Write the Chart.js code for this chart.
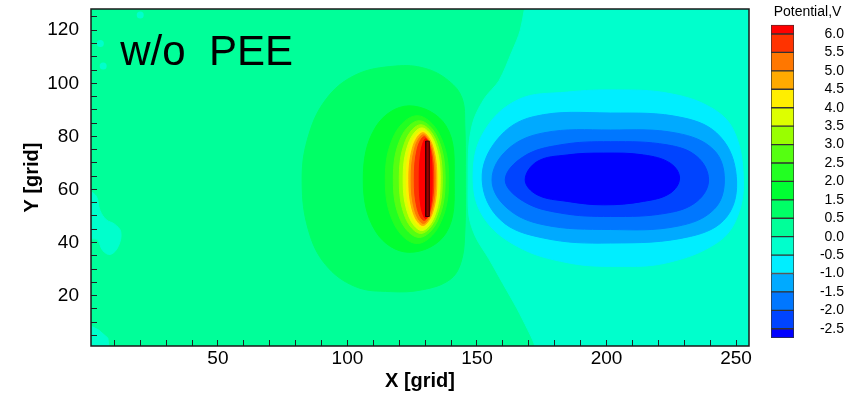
<!DOCTYPE html>
<html>
<head>
<meta charset="utf-8">
<title>Potential, w/o PEE</title>
<script src="https://cdn.jsdelivr.net/npm/chart.js@4.4.1/dist/chart.umd.min.js"></script>
<style>
  html, body { margin: 0; padding: 0; background: #fff; }
  #wrap { position: relative; width: 857px; height: 393px; }
  #field { position: absolute; left: 0; top: 0; }
  #bar { position: absolute; left: 760px; top: 0; }
</style>
</head>
<body>
<div id="wrap">
  <canvas id="field" width="857" height="393"></canvas>
  <canvas id="bar" width="84" height="393"></canvas>
</div>
<script>
// levels printed on the colour bar (there is no 1.0 label in the original)
const levels = [-2.5, -2.0, -1.5, -1.0, -0.5, 0.0, 0.5, 1.5, 2.0, 2.5, 3.0, 3.5, 4.0, 4.5, 5.0, 5.5, 6.0];
// one colour per band, from below -2.5 up to above 6.0
const bandColors = ['#0000ff', '#0044ff', '#0077ff', '#00aaff', '#00eeff', '#00ffcc', '#00ff99', '#00ff66',
                    '#00ff33', '#22ff22', '#55ff11', '#99ff00', '#ddff00', '#ffee00', '#ffaa00', '#ff7700',
                    '#ff3300', '#ff0000'];

const panelText = 'w/o  PEE';

// isolines as [x, y] in grid units
// zero line: everything right of it is negative
const isoZero = [[169.5,135],[166.7,120],[163.5,112],[158.5,101],[153,94.5],[148.8,86.5],[146.9,77],[146.6,63.7],
                 [146.9,50],[149.5,42],[154.5,34],[160,24.5],[165.5,15],[169.5,7.3],[172,2],[174,-5],[400,-5],[400,135]];

// positive side, around the electrode
const isoP05 = [[118.5,106.5],[130,105.6],[139,101],[144.2,94.5],[145.3,84],[145.5,63.7],[145.3,44],[143.8,32.5],
                [139.5,26],[129,22.2],[116.5,21.5],[103,23.4],[91.5,31.7],[84.9,44.8],[82.5,62.5],[84.5,78.7],
                [91.5,93.7],[103,103.1]];
const isoP15 = [[106.1,63.7],[111.0,83.7],[123.7,91.5],[138.0,84.0],[141.2,63.7],[138.0,43.5],[123.7,36.3],[111.0,44.0]];
const isoP20 = [[114.6,63.7],[118.2,80.8],[126.9,87.8],[135.5,80.8],[139.1,63.7],[135.5,46.6],[126.9,39.6],[118.2,46.6]];
const isoP25 = [[117.7,63.7],[120.6,79.5],[127.7,85.9],[134.8,79.5],[137.7,63.7],[134.8,48.2],[127.7,41.9],[120.6,48.2]];
const isoP30 = [[120.0,63.7],[122.4,78.4],[128.3,84.4],[134.2,78.4],[136.6,63.7],[134.2,49.3],[128.3,43.4],[122.4,49.3]];
const isoP35 = [[121.5,63.7],[123.6,77.5],[128.7,83.2],[133.7,77.5],[135.8,63.7],[133.7,50.1],[128.7,44.5],[123.6,50.1]];
const isoP40 = [[122.7,63.7],[124.5,76.8],[128.9,82.1],[133.2,76.8],[135.0,63.7],[133.2,50.9],[128.9,45.7],[124.5,50.9]];
const isoP45 = [[123.7,63.7],[125.3,76.3],[129.1,81.4],[132.9,76.3],[134.5,63.7],[132.9,51.4],[129.1,46.4],[125.3,51.4]];
const isoP50 = [[124.6,63.7],[126.0,75.7],[129.3,80.6],[132.6,75.7],[133.9,63.7],[132.6,52.0],[129.3,47.2],[126.0,52.0]];
const isoP55 = [[125.8,63.7],[126.9,75.2],[129.6,79.9],[132.2,75.2],[133.3,63.7],[132.2,52.8],[129.6,48.3],[126.9,52.8]];
const isoP60 = [[127.7,63.7],[128.4,74.6],[130.2,79.1],[132.0,74.6],[132.7,63.7],[132.0,53.3],[130.2,49.0],[128.4,53.3]];

// the electrode itself
const rod = [[130.2,49.8],[131.6,49.8],[131.6,78.2],[130.2,78.2],[130.2,49.8]];

// negative side
const isoM05 = [[148.5,64.7],[152.4,81.3],[165.6,93.7],[184.9,96.7],[204,97.5],[223.5,96.3],[240,91],[249,82.4],
                [252.8,64.7],[250.5,49.7],[242.8,40],[223.5,32.4],[204,31],[184.9,32.4],[165.6,38.5],[152.4,49.7]];
const isoM10 = [[152,63.6],[157.7,78.7],[171.7,87.4],[201.5,88.8],[229.6,87],[243.9,79.9],[250.1,64.9],[246.5,49.8],
                [232.4,42.3],[201.5,39.8],[175.6,41.7],[159,48.6]];
const isoM15 = [[155.8,63.6],[161.6,74.9],[175.6,81.3],[201.5,82.4],[227.2,81.2],[241.4,74.9],[245.5,63.6],[241.4,52.4],
                [227.2,46.1],[201.5,44.9],[175.6,46.7],[161.6,53.0]];
const isoM20 = [[160.9,63.6],[168.0,72.4],[182.2,76.8],[201.5,78.0],[223.4,76.8],[234.9,72.4],[239.4,63.6],[234.9,55.5],
                [223.4,51.1],[201.5,49.8],[182.2,51.1],[168.0,55.5]];
const isoM25 = [[168.6,63.6],[173.2,70.5],[184.8,73.0],[198.9,73.7],[214.3,73.0],[224.6,69.9],[228.2,64.3],[224.6,58.6],
                [214.3,55.5],[198.9,54.2],[184.8,55.5],[173.2,58.0]];

// small noisy patches along the left edge
const speckLeft = [[0,59],[3,57.5],[4.5,52],[7,48.5],[10,47],[12.5,44],[11.5,38.5],[8.5,35.5],[5.5,37],[3.5,41],[0,42]];
const speckCorner = [[0,9],[4,7],[7.5,4],[8,0],[0,0]];
const speckDots = [[4.6,115],[5.7,106.5],[20,125.7]];

const positiveIso = [[0.5, isoP05], [1.5, isoP15], [2.0, isoP20], [2.5, isoP25], [3.0, isoP30], [3.5, isoP35],
                     [4.0, isoP40], [4.5, isoP45], [5.0, isoP50], [5.5, isoP55], [6.0, isoP60]];
const negativeIso = [[-0.5, isoM05], [-1.0, isoM10], [-1.5, isoM15], [-2.0, isoM20], [-2.5, isoM25]];

Chart.defaults.font.family = '"Liberation Sans", Arial, Helvetica, sans-serif';
Chart.defaults.color = '#000';

function toXY(points) {
    return points.map(p => ({ x: p[0], y: p[1] }));
}

function area(points, color, closed) {
    return {
        data: toXY(points),
        backgroundColor: color,
        borderColor: color,
        borderWidth: 1,
        fill: 'shape',
        pointRadius: 0,
        tension: closed ? 0.38 : 0.3,
        capBezierPoints: false,
        closed: closed
    };
}

// layers from bottom to top
let layers = [];
layers.push(Object.assign(area([[-10,-10],[300,-10],[300,150],[-10,150]], bandColors[6], false), { tension: 0 }));
layers.push(area(isoZero, bandColors[levels.indexOf(0)], false));
positiveIso.forEach(function (iso) {
    layers.push(area(iso[1], bandColors[levels.indexOf(iso[0]) + 1], true));
});
layers.push(Object.assign(area(rod, '#990000', false), { tension: 0, borderColor: '#3a0000', borderWidth: 1 }));
negativeIso.forEach(function (iso) {
    layers.push(area(iso[1], bandColors[levels.indexOf(iso[0])], true));
});
layers.push(area(speckLeft, bandColors[5], true));
layers.push(Object.assign(area(speckCorner, bandColors[5], false), { tension: 0 }));
layers.push({
    data: toXY(speckDots), showLine: false, fill: false,
    pointRadius: 3.5, pointBorderWidth: 0, pointBackgroundColor: bandColors[5]
});

// first layer at the bottom
layers.forEach(function (d, i) { d.order = layers.length - i; });

// isolines are closed curves: let the spline wrap round
const closeLoops = {
    id: 'closeLoops',
    afterDatasetUpdate(chart, args) {
        const line = args.meta.dataset;
        if (line && chart.data.datasets[args.index].closed) {
            line._loop = true;
            line._fullLoop = true;
        }
    }
};

const frame = {
    id: 'frame',
    afterDraw(chart) {
        const ctx = chart.ctx;
        const a = chart.chartArea;
        ctx.save();
        ctx.strokeStyle = '#1a1a1a';
        ctx.lineWidth = 1.5;
        ctx.strokeRect(a.left, a.top, a.right - a.left, a.bottom - a.top);
        ctx.restore();
    }
};

const panelLabel = {
    id: 'panelLabel',
    afterDatasetsDraw(chart) {
        const ctx = chart.ctx;
        ctx.save();
        ctx.font = '42px "Liberation Sans", Arial, sans-serif';
        ctx.fillStyle = '#000';
        ctx.textBaseline = 'alphabetic';
        ctx.fillText(panelText, chart.scales.x.getPixelForValue(12.3), chart.scales.y.getPixelForValue(106.8));
        ctx.restore();
    }
};

function everyNth(step) {
    return function (v) {
        const k = Math.round(v / step);
        return Math.abs(v - k * step) < 1e-6 ? String(k * step) : '';
    };
}

// inward tick marks: short dashes of the grid lines next to the axis
const plotHeight = 337;

new Chart(document.getElementById('field'), {
    type: 'line',
    data: { datasets: layers },
    plugins: [closeLoops, panelLabel, frame],
    options: {
        responsive: false,
        animation: false,
        events: [],
        layout: { padding: { left: 0, top: 9, right: 108, bottom: 0 } },
        plugins: { legend: { display: false }, tooltip: { enabled: false } },
        scales: {
            x: {
                type: 'linear', min: 1, max: 255,
                afterFit: s => { s.height = 47; s.paddingLeft = 0; s.paddingRight = 0; },
                ticks: {
                    stepSize: 10, includeBounds: false, autoSkip: false, maxRotation: 0, padding: 1,
                    font: { size: 19 }, color: '#000',
                    callback: everyNth(50)
                },
                grid: { drawTicks: false, drawOnChartArea: true, color: '#222', lineWidth: 1, z: 1 },
                border: { display: false, dash: [0, plotHeight - 6, 6, 2000] },
                title: { display: true, text: 'X [grid]', color: '#000', font: { size: 20, weight: 'bold' }, padding: { top: 0, bottom: 0 } }
            },
            y: {
                type: 'linear', min: 1, max: 128,
                afterFit: s => { s.width = 91; s.paddingTop = 0; s.paddingBottom = 0; },
                ticks: {
                    stepSize: 5, includeBounds: false, autoSkip: false, padding: 12,
                    font: { size: 19 }, color: '#000',
                    callback: everyNth(20)
                },
                grid: { drawTicks: false, drawOnChartArea: true, color: '#222', lineWidth: 1, z: 1 },
                border: { display: false, dash: [6, 2000] },
                title: { display: true, text: 'Y [grid]', color: '#000', font: { size: 20, weight: 'bold' }, padding: { top: 20, bottom: 0 } }
            }
        }
    }
});

// colour bar: one floating bar per band, boundaries sit on the level index
new Chart(document.getElementById('bar'), {
    type: 'bar',
    data: {
        labels: [''],
        datasets: bandColors.map(function (c, i) {
            return {
                data: [[Math.max(i - 1, -0.5), Math.min(i, levels.length - 0.5)]],
                backgroundColor: c,
                borderColor: '#333',
                borderWidth: 1,
                borderSkipped: false,
                grouped: false,
                barPercentage: 1,
                categoryPercentage: 1
            };
        })
    },
    options: {
        responsive: false,
        animation: false,
        events: [],
        layout: { padding: { left: 11, right: 0, top: 0, bottom: 55 } },
        plugins: {
            legend: { display: false },
            tooltip: { enabled: false },
            title: { display: true, text: 'Potential,V', color: '#000', font: { size: 14, weight: 'normal' }, padding: { top: 4, bottom: 4 } }
        },
        scales: {
            x: { display: false },
            y: {
                position: 'right', min: -0.5, max: levels.length - 0.5, bounds: 'data',
                afterBuildTicks: s => { s.ticks = levels.map((v, i) => ({ value: i })); },
                afterFit: s => { s.width = 50; s.paddingTop = 0; s.paddingBottom = 0; },
                grid: { display: false },
                border: { display: false },
                ticks: {
                    autoSkip: false, crossAlign: 'far', padding: 13, color: '#000', font: { size: 14 },
                    callback: v => levels[v].toFixed(1)
                }
            }
        }
    }
});
</script>
</body>
</html>
